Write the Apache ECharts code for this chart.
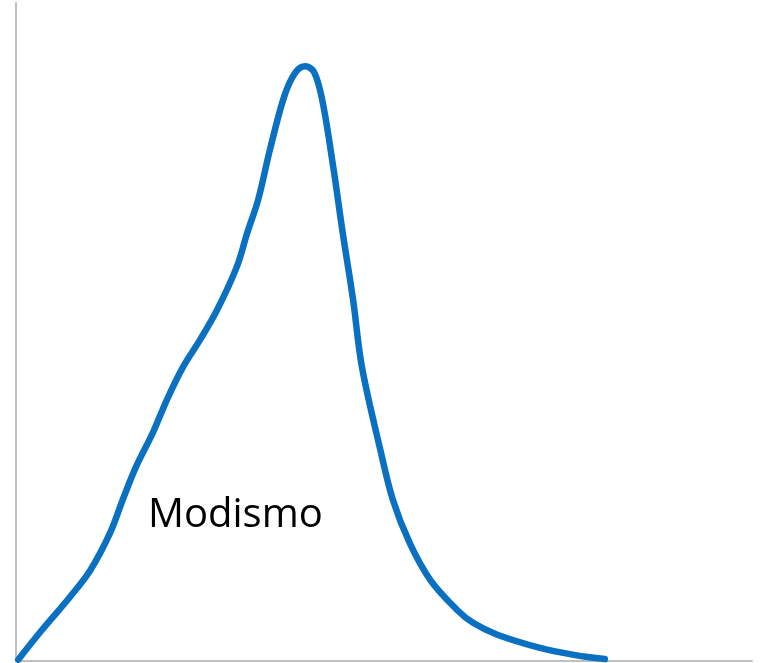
<!DOCTYPE html>
<html>
<head>
<meta charset="utf-8">
<script src="https://cdn.jsdelivr.net/npm/echarts@6/dist/echarts.min.js"></script>
<style>
  html, body { margin: 0; padding: 0; background: #fff; }
  #chart { width: 769px; height: 663px; }
</style>
</head>
<body>
<div id="chart"></div>
<script>
// curva (unidades arbitrarias 0-100)
const xValues = [0.3, 3.3, 7.3, 10.1, 12.8, 14.5, 16.3, 18.6, 20.5, 22.7, 25.0, 27.3, 30.0, 31.4, 32.9, 34.5, 36.5, 38.0, 39.3, 40.5, 41.6, 43.1, 44.4, 45.8, 47.0, 49.5, 51.2, 53.5, 56.3, 59.9, 62.1, 65.4, 71.2, 76.0, 80.0]
const yValues = [0.2, 4.4, 9.7, 13.8, 19.5, 24.5, 29.5, 34.7, 39.7, 44.7, 48.8, 53.3, 59.9, 65.0, 70.1, 77.7, 86.0, 89.5, 90.4, 89.5, 85.3, 75.1, 65.0, 54.9, 44.7, 32.1, 24.5, 17.9, 12.3, 7.8, 5.8, 4.0, 2.0, 0.9, 0.3]
const labelText = 'Modismo'

const chart = echarts.init(document.getElementById('chart'))
const points = xValues.map((x, i) => [x, yValues[i]])

chart.setOption({
  backgroundColor: '#ffffff',
  animation: false,
  grid: { left: 16, right: 17, top: 3, bottom: 2 },
  xAxis: {
    type: 'value', min: 0, max: 100,
    axisLine: { show: true, lineStyle: { color: '#c0c0c0', width: 2 } },
    axisTick: { show: false },
    axisLabel: { show: false },
    splitLine: { show: false }
  },
  yAxis: {
    type: 'value', min: 0, max: 100,
    axisLine: { show: true, lineStyle: { color: '#c0c0c0', width: 2 } },
    axisTick: { show: false },
    axisLabel: { show: false },
    splitLine: { show: false }
  },
  series: [{
    type: 'line',
    data: points,
    smooth: 0.35,
    showSymbol: false,
    lineStyle: { color: '#0a70c2', width: 6.5, cap: 'round', join: 'round' }
  }],
  graphic: [{
    type: 'text',
    left: 148,
    top: 496,
    style: {
      text: labelText,
      font: '40px "Open Sans", sans-serif',
      fill: '#000'
    }
  }]
})
</script>
</body>
</html>
